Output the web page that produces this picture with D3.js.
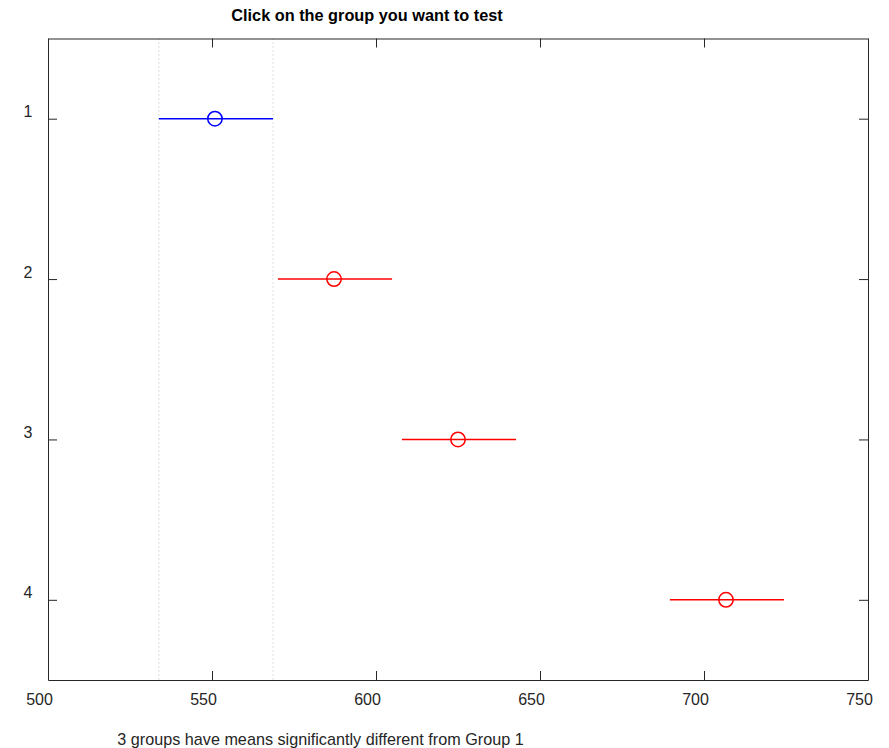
<!DOCTYPE html>
<html><head><meta charset="utf-8">
<script src="https://cdn.jsdelivr.net/npm/d3@7"></script>
<style>
html,body{margin:0;padding:0;background:#fff;}
svg{display:block;font-family:"Liberation Sans",Arial,sans-serif;}
</style></head>
<body>
<script>
const groups = [1, 2, 3, 4];
const means = [550.9, 587.2, 625.0, 706.7];
const lower = [533.8, 570.1, 607.9, 689.6];
const upper = [568.6, 604.9, 642.7, 724.4];
const xTicks = [500, 550, 600, 650, 700, 750];
const selectedGroup = 1;
const title = "Click on the group you want to test";
const footer = "3 groups have means significantly different from Group 1";

const W = 889, H = 748;
const m = {left: 48, right: 21, top: 38.5, bottom: 68};
const svg = d3.select("body").append("svg").attr("width", W).attr("height", H);

const x = d3.scaleLinear().domain([500, 750]).range([m.left, W - m.right]);
const y = d3.scaleLinear().domain([0.5, 4.5]).range([m.top, H - m.bottom]);
const axisColor = "#262626";

// dotted reference lines at group interval bounds
const sel = groups.indexOf(selectedGroup);
[lower[sel], upper[sel]].forEach(v => {
  svg.append("line")
    .attr("x1", x(v)).attr("x2", x(v))
    .attr("y1", y.range()[0]).attr("y2", y.range()[1])
    .attr("stroke", "#b8b8b8").attr("stroke-width", 1)
    .attr("stroke-dasharray", "1,3");
});

function styleAxis(g) {
  g.select(".domain").attr("stroke", axisColor);
  g.selectAll(".tick line").attr("stroke", axisColor);
  g.selectAll(".tick text").attr("fill", axisColor).attr("font-size", 16)
    .attr("font-family", "'Liberation Sans', Arial, sans-serif");
}

// bottom axis
const gb = svg.append("g").attr("transform", `translate(0,${y.range()[1]})`)
  .call(d3.axisBottom(x).tickValues(xTicks).tickSizeInner(-9).tickSizeOuter(0).tickFormat(d3.format("d")));
styleAxis(gb);
gb.selectAll(".tick text").attr("x", -9).attr("y", 25).attr("dy", 0);

// top axis
const gt = svg.append("g").attr("transform", `translate(0,${y.range()[0]})`)
  .call(d3.axisTop(x).tickValues(xTicks).tickSizeInner(-9).tickSizeOuter(0).tickFormat(""));
styleAxis(gt);

// left axis
const gl = svg.append("g").attr("transform", `translate(${x.range()[0]},0)`)
  .call(d3.axisLeft(y).tickValues(groups).tickSizeInner(-9).tickSizeOuter(0).tickFormat(d3.format("d")));
styleAxis(gl);
gl.selectAll(".tick text").attr("x", -20).attr("y", -2).attr("dy", 0).attr("text-anchor", "middle");

// right axis
const gr = svg.append("g").attr("transform", `translate(${x.range()[1]},0)`)
  .call(d3.axisRight(y).tickValues(groups).tickSizeInner(-9).tickSizeOuter(0).tickFormat(""));
styleAxis(gr);

// intervals
const data = groups.map((g, i) => ({g, mean: means[i], lo: lower[i], hi: upper[i]}));
const color = d => d.g === selectedGroup ? "#0000ff" : "#ff0000";

svg.selectAll("line.ci").data(data).join("line").attr("class", "ci")
  .attr("x1", d => x(d.lo)).attr("x2", d => x(d.hi))
  .attr("y1", d => y(d.g)).attr("y2", d => y(d.g))
  .attr("stroke", color).attr("stroke-width", 1.5);

svg.selectAll("circle.mean").data(data).join("circle").attr("class", "mean")
  .attr("cx", d => x(d.mean)).attr("cy", d => y(d.g)).attr("r", 7.2)
  .attr("fill", "none").attr("stroke", color).attr("stroke-width", 1.5);

// title
svg.append("text").attr("x", 367).attr("y", 21).attr("text-anchor", "middle")
  .attr("font-size", 16.3).attr("font-weight", "bold").attr("fill", "#000").text(title);

// footer
svg.append("text").attr("x", 320.5).attr("y", 745).attr("text-anchor", "middle")
  .attr("font-size", 16.2).attr("fill", "#262626").text(footer);
</script>
</body></html>
